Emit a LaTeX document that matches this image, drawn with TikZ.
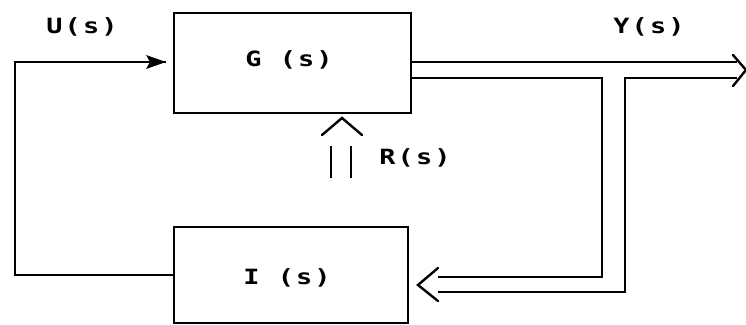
\documentclass[tikz,border=0pt]{standalone}
\usepackage{fontspec}
\usepackage{graphicx}
\newfontfamily\labelfont[LetterSpace=8]{DejaVu Sans Mono}
\newcommand{\widelabel}[1]{\scalebox{1.28}[1.0]{\labelfont\bfseries\fontsize{21}{21}\selectfont #1}}
\begin{document}
\begin{tikzpicture}[x=1pt,y=-1pt,
  wire/.style={line width=2.4pt,line join=miter},
  blockbox/.style={draw,line width=2.4pt,rectangle,anchor=north west,inner sep=0pt},
  lbl/.style={inner sep=0pt}]
\useasboundingbox (0,0) rectangle (746,324);

% blocks
\node[blockbox,minimum width=237pt,minimum height=100pt] (G) at (173,12) {};
\node[blockbox,minimum width=234pt,minimum height=96pt] (I) at (173,226) {};
\node[lbl] (gt) at (289,60) {\widelabel{G (s)}};
\node[lbl] (it) at (287,278) {\widelabel{I (s)}};

% signal labels
\node[lbl] (ut) at (82,27) {\widelabel{U(s)}};
\node[lbl] (yt) at (649,27) {\widelabel{Y(s)}};
\node[lbl] (rt) at (415,158) {\widelabel{R(s)}};

% feedback path I -> G
\coordinate (fbA) at (15,275);
\coordinate (fbB) at (15,62);
\coordinate (gin) at (166,62);
\draw[wire] (I.west |- fbA) -- (fbA) -- (fbB) -- (gin);
\fill (gin) -- ++(-20,-7) -- ++(4,7) -- ++(-4,7) -- cycle;

% double output arrow
\coordinate (oTop) at (737,62);
\coordinate (oBot) at (737,78);
\coordinate (innerC) at (602,78);
\coordinate (outerC) at (625,78);
\draw[wire] (G.east |- oTop) -- (oTop);
\draw[wire] (G.east |- innerC) -- (innerC) -- (602,277) -- (438,277);
\draw[wire] (oBot) -- (outerC) -- (625,292) -- (438,292);
\draw[wire,line cap=round] (733,55) -- (746,70) -- (733,86);

% feedback double arrow into I
\draw[wire,line cap=round] (438,268) -- (418,285) -- (438,301);

% disturbance double arrow R(s)
\coordinate (rL) at (331,178);
\coordinate (rR) at (351,178);
\draw[wire] (rL) -- (331,146);
\draw[wire] (rR) -- (351,146);
\draw[wire,line cap=round] (322,135) -- (342,118) -- (362,135);
\end{tikzpicture}
\end{document}
